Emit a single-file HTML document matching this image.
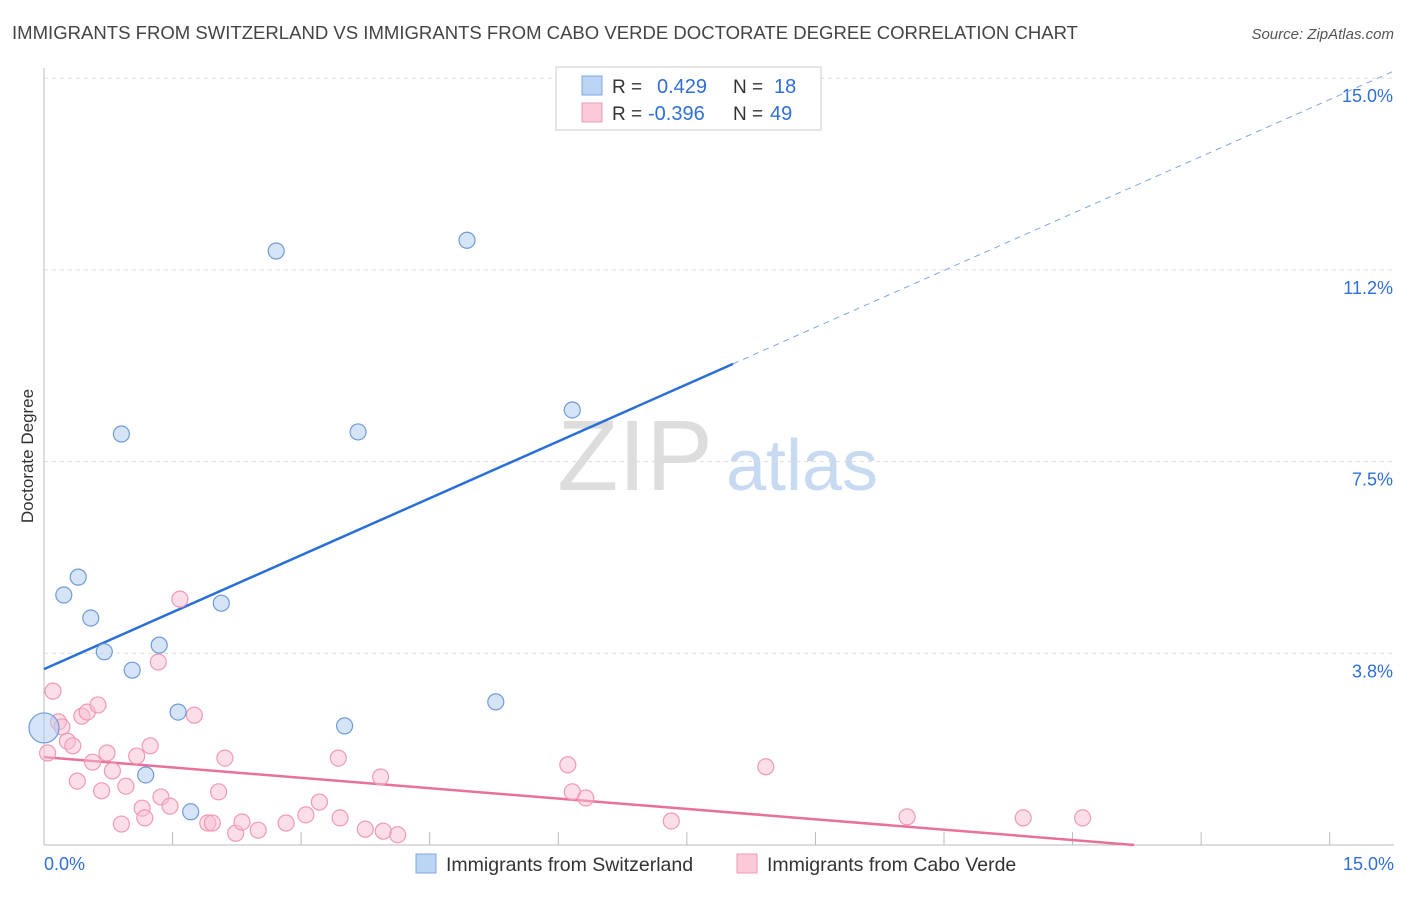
<!DOCTYPE html>
<html><head><meta charset="utf-8"><style>
body{margin:0;background:#fff;font-family:"Liberation Sans",sans-serif}
svg text{font-family:"Liberation Sans",sans-serif}
</style></head><body>
<svg id="chart" width="1406" height="892" viewBox="0 0 1406 892" xmlns="http://www.w3.org/2000/svg">
<text x="12" y="39" font-size="18.5" fill="#444" textLength="1066" lengthAdjust="spacingAndGlyphs">IMMIGRANTS FROM SWITZERLAND VS IMMIGRANTS FROM CABO VERDE DOCTORATE DEGREE CORRELATION CHART</text>
<text x="1394" y="39" font-size="15" fill="#555" text-anchor="end" font-style="italic">Source: ZipAtlas.com</text>
<text transform="translate(33,456) rotate(-90)" font-size="17" fill="#333" text-anchor="middle">Doctorate Degree</text>
<g>
<text x="635" y="490" font-size="100" fill="#ddd" text-anchor="middle" font-family="Liberation Serif">ZIP</text>
<text x="802" y="490" font-size="72" fill="#c8daf2" text-anchor="middle">atlas</text>
</g>
<g id="grid"></g><g id="axes"></g><g id="lines"></g><g id="pts"></g>
<g>
<rect x="556" y="67" width="265" height="63" fill="#fff" stroke="#ccc"/>
<rect x="582" y="76" width="20" height="19" fill="#bcd5f5" stroke="#7ea7e0"/>
<text x="612" y="93" font-size="19" fill="#333">R =</text><text x="657" y="93" font-size="20" fill="#2f6fd6">0.429</text>
<text x="733" y="93" font-size="19" fill="#333">N =</text><text x="774" y="93" font-size="20" fill="#2f6fd6">18</text>
<rect x="582" y="103" width="20" height="19" fill="#fcc9d8" stroke="#ef9ab4"/>
<text x="612" y="120" font-size="19" fill="#333">R =</text><text x="648" y="120" font-size="20" fill="#2f6fd6">-0.396</text>
<text x="733" y="120" font-size="19" fill="#333">N =</text><text x="770" y="120" font-size="20" fill="#2f6fd6">49</text>
</g>
<g>
<rect x="416" y="854" width="20" height="19" fill="#bcd5f5" stroke="#7ea7e0"/>
<text x="446" y="871" font-size="19.5" fill="#333">Immigrants from Switzerland</text>
<rect x="737" y="854" width="20" height="19" fill="#fcc9d8" stroke="#ef9ab4"/>
<text x="767" y="871" font-size="19.5" fill="#333">Immigrants from Cabo Verde</text>
</g>
</svg>
<script>
const yTicks=[3.75,7.5,11.25,15];
const yTickLabels=["3.8%","7.5%","11.2%","15.0%"];
const blueX=[0,0.22,0.38,0.52,0.67,0.86,0.98,1.13,1.28,1.49,1.63,1.97,2.58,3.34,3.49,4.7,5.02,5.87];
const blueY=[2.29,4.89,5.24,4.44,3.78,8.04,3.42,1.37,3.91,2.6,0.65,4.73,11.62,2.33,8.08,11.83,2.8,8.51];
const pinkX=[0.04,0.1,0.16,0.2,0.26,0.32,0.37,0.42,0.48,0.54,0.6,0.64,0.7,0.76,0.86,0.91,1.03,1.09,1.12,1.18,1.27,1.3,1.4,1.51,1.67,1.82,1.87,1.94,2.01,2.13,2.2,2.38,2.69,2.91,3.06,3.27,3.29,3.57,3.74,3.77,3.93,5.82,5.87,6.02,6.97,8.02,9.59,10.88,11.54];
const pinkY=[1.8,3.01,2.41,2.31,2.03,1.94,1.25,2.52,2.6,1.62,2.74,1.06,1.8,1.45,0.41,1.15,1.74,0.72,0.53,1.94,3.58,0.94,0.76,4.81,2.54,0.43,0.43,1.04,1.7,0.23,0.45,0.29,0.43,0.59,0.84,1.7,0.53,0.31,1.33,0.27,0.2,1.57,1.04,0.92,0.47,1.53,0.55,0.53,0.53];
const blueLine=[3.44,0.78];
const pinkLine=[1.72,-0.142];
const X=v=>44+v*90, Y=v=>845-v*51.12;
const NS="http://www.w3.org/2000/svg";
function mk(t,a,p){const e=document.createElementNS(NS,t);for(const k in a)e.setAttribute(k,a[k]);p.appendChild(e);return e;}
const grid=document.getElementById('grid'),axes=document.getElementById('axes'),lines=document.getElementById('lines'),pts=document.getElementById('pts');
yTicks.forEach((t,i)=>{
 const g=mk('line',{x1:44,x2:1394,y1:Y(t),y2:Y(t),stroke:'#ddd','stroke-dasharray':'4,4'},grid);
 
 
 const l=mk('text',{x:1393,y:Y(t)+24,'font-size':18,fill:'#2f6fd6','text-anchor':'end'},axes);
 l.textContent=yTickLabels[i];
 
 
});
const ax=mk('line',{x1:44,x2:44,y1:68,y2:845,stroke:'#bbb'},axes);


const bx=mk('line',{x1:44,x2:1394,y1:845,y2:845,stroke:'#bbb'},axes);


for(let i=1;i<=10;i++){const v=i*15/10.5;
 const t=mk('line',{x1:X(v),x2:X(v),y1:832,y2:845,stroke:'#bbb'},axes);
 
 }
[["0.0%",44,'start'],["15.0%",1394,'end']].forEach(a=>{const t=mk('text',{x:a[1],y:870,'font-size':18,fill:'#2f6fd6','text-anchor':a[2]},axes);t.textContent=a[0];
 
 });
const xe=7.656;
const b1=mk('line',{x1:X(0),y1:Y(blueLine[0]),x2:X(xe),y2:Y(blueLine[0]+blueLine[1]*xe),stroke:'#2a6fd6','stroke-width':2.5},lines);


const b2=mk('line',{x1:X(xe),y1:Y(blueLine[0]+blueLine[1]*xe),x2:X(15),y2:Y(blueLine[0]+blueLine[1]*15),stroke:'#7ea7e0','stroke-width':1,'stroke-dasharray':'6,5'},lines);


const pe=-pinkLine[0]/pinkLine[1];
const p1=mk('line',{x1:X(0),y1:Y(pinkLine[0]),x2:X(pe),y2:Y(0),stroke:'#e8719a','stroke-width':2.5},lines);


pinkX.forEach((x,i)=>{const c=mk('circle',{cx:X(x),cy:Y(pinkY[i]),r:8,fill:'rgba(250,190,210,0.5)',stroke:'#ef9ab4','stroke-width':1.2},pts);
 
 });
blueX.forEach((x,i)=>{const c=mk('circle',{cx:X(x),cy:Y(blueY[i]),r:i==0?15:8,fill:'rgba(180,205,240,0.55)',stroke:'#6f9bd8','stroke-width':1.2},pts);
 
 });
</script>
</body></html>
